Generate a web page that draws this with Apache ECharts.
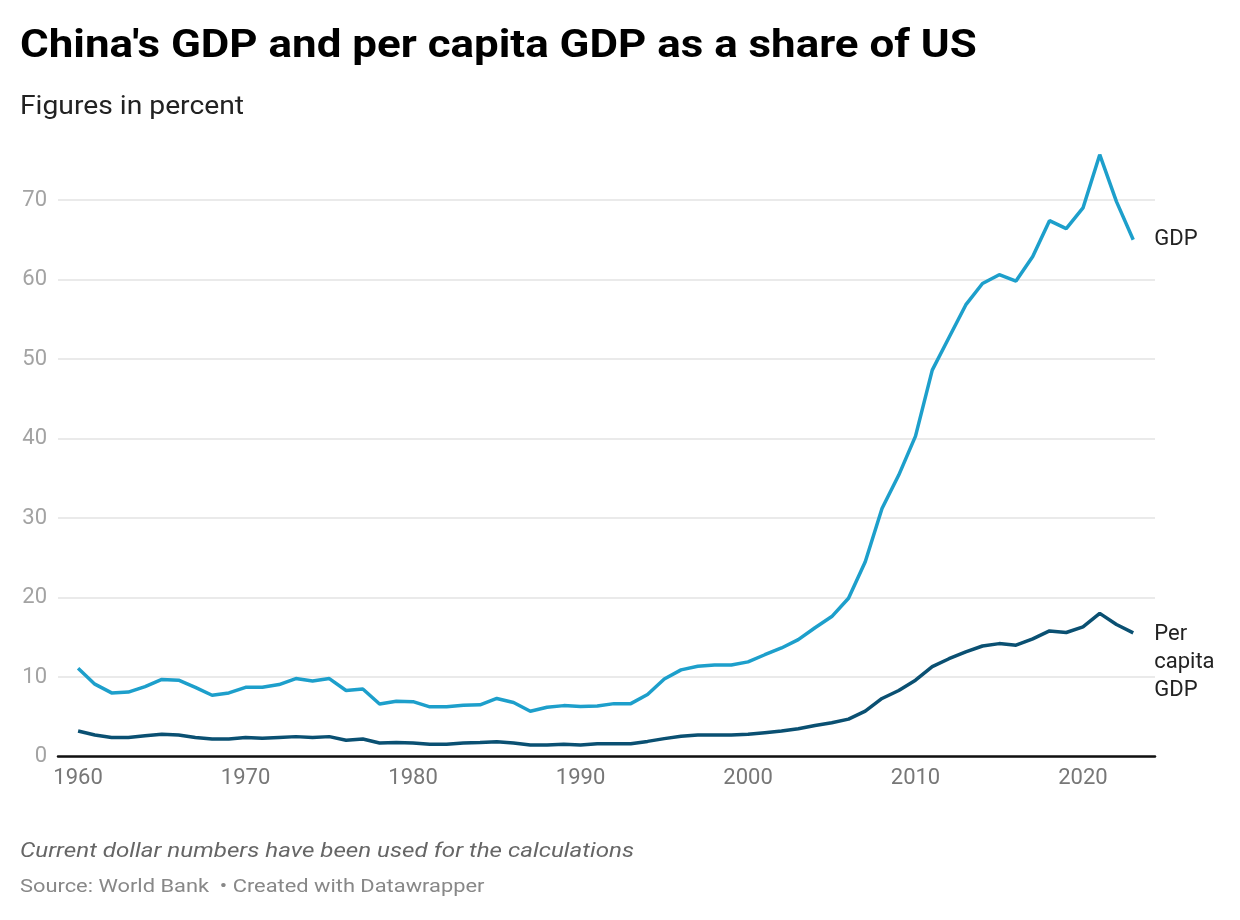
<!DOCTYPE html>
<html style="height: 100%; width:100%">
<head>
    <meta charset="utf-8">
    <script src="https://cdn.jsdelivr.net/npm/echarts@6/dist/echarts.min.js"></script>
</head>
<body style="height: 100%; width: 100%; margin: 0; background:#fff;">
<div id="container" style="width:1240px;height:920px"></div>
<script type="text/javascript">
// years 1960 - 2023
var years = [];
for (var y = 1960; y <= 2023; y++) years.push(y);

// China GDP as % of US GDP
var gdpShare = [
    11.1, 9.1, 8.0, 8.1, 8.8, 9.7, 9.6, 8.7, 7.7, 8.0,
    8.7, 8.7, 9.05, 9.8, 9.5, 9.8, 8.3, 8.5, 6.6, 6.95,
    6.9, 6.25, 6.25, 6.45, 6.5, 7.3, 6.8, 5.7, 6.2, 6.4,
    6.3, 6.35, 6.65, 6.65, 7.8, 9.75, 10.9, 11.35, 11.5, 11.5,
    11.9, 12.8, 13.65, 14.7, 16.2, 17.6, 19.9, 24.5, 31.2, 35.4,
    40.3, 48.6, 52.7, 56.8, 59.5, 60.6, 59.8, 62.9, 67.4, 66.4,
    69.0, 75.7, 69.8, 65.0
];

// China per capita GDP as % of US per capita GDP
var perCapitaShare = [
    3.2, 2.7, 2.4, 2.4, 2.6, 2.8, 2.7, 2.4, 2.2, 2.2,
    2.4, 2.3, 2.4, 2.5, 2.4, 2.5, 2.05, 2.2, 1.7, 1.75,
    1.7, 1.55, 1.55, 1.7, 1.75, 1.85, 1.7, 1.45, 1.45, 1.55,
    1.45, 1.6, 1.6, 1.6, 1.9, 2.25, 2.55, 2.7, 2.7, 2.7,
    2.8, 3.0, 3.2, 3.5, 3.9, 4.25, 4.7, 5.7, 7.3, 8.3,
    9.6, 11.3, 12.3, 13.15, 13.9, 14.2, 14.0, 14.8, 15.8, 15.6,
    16.3, 18.0, 16.6, 15.55
];

var xTicks = [1960, 1970, 1980, 1990, 2000, 2010, 2020];

function pairs(vals) {
    return years.map(function (yr, i) { return [yr, vals[i]]; });
}

var font = "Roboto";
var myChart = echarts.init(document.getElementById("container"), null, {renderer: "canvas"});

// header / footer texts, a bit wider than plain Roboto like in the original
function headText(txt, yMid, size, weight, style, color, sx) {
    return {
        type: "text",
        x: 20,
        y: yMid,
        scaleX: sx,
        silent: true,
        style: {
            x: 0, y: 0,
            text: txt,
            fontSize: size,
            fontWeight: weight,
            fontStyle: style,
            fontFamily: font,
            fill: color,
            align: "left",
            verticalAlign: "middle"
        }
    };
}

var option = {
    animation: false,
    backgroundColor: "#ffffff",
    textStyle: {fontFamily: font},
    graphic: [
        headText("China's GDP and per capita GDP as a share of US", 47, 38, "bold", "normal", "#000", 1.155),
        headText("Figures in percent", 108, 25, "normal", "normal", "#222", 1.13),
        headText("Current dollar numbers have been used for the calculations", 852, 21, "normal", "italic", "#666", 1.15),
        headText("Source: World Bank  \u2022 Created with Datawrapper", 887, 19, "normal", "normal", "#888", 1.15)
    ],
    grid: {
        left: 58,
        right: 85,
        top: 200,
        bottom: 163.5,
        containLabel: false
    },
    xAxis: {
        type: "value",
        min: 1958.8,
        max: 2024.3,
        axisLine: {show: true, lineStyle: {color: "#111", width: 2.5}},
        axisTick: {show: false},
        splitLine: {show: false},
        axisLabel: {
            customValues: xTicks,
            color: "#777",
            fontSize: 22,
            margin: 11,
            fontFamily: font,
            formatter: function (v) { return String(v); }
        }
    },
    yAxis: {
        type: "value",
        min: 0,
        max: 70,
        interval: 10,
        axisLine: {show: false},
        axisTick: {show: false},
        splitLine: {lineStyle: {color: "#e3e3e3", width: 1.5}},
        axisLabel: {color: "#a3a3a3", fontSize: 22, margin: 11, fontFamily: font}
    },
    series: [{
        name: "GDP",
        type: "line",
        data: pairs(gdpShare),
        showSymbol: false,
        clip: false,
        lineStyle: {color: "#1d9fcb", width: 3.5},
        itemStyle: {color: "#1d9fcb"},
        endLabel: {
            show: true,
            formatter: "GDP",
            distance: 21,
            color: "#222",
            fontSize: 22,
            fontFamily: font
        }
    }, {
        name: "Per capita GDP",
        type: "line",
        data: pairs(perCapitaShare),
        showSymbol: false,
        clip: false,
        lineStyle: {color: "#0a5072", width: 3.5},
        itemStyle: {color: "#0a5072"},
        endLabel: {
            show: true,
            formatter: "Per\ncapita\nGDP",
            distance: 21,
            color: "#222",
            fontSize: 22,
            lineHeight: 28,
            verticalAlign: "top",
            offset: [0, -12],
            fontFamily: font
        }
    }]
};
myChart.setOption(option);
</script>
</body>
</html>
